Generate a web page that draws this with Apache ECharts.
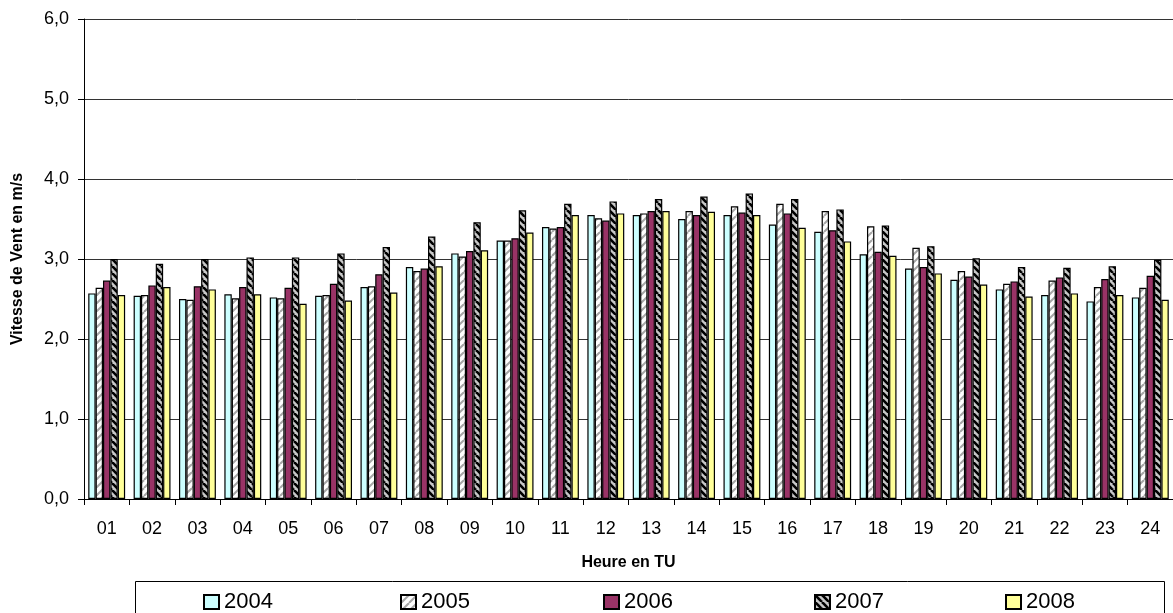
<!DOCTYPE html>
<html>
<head>
<meta charset="utf-8">
<script src="https://cdn.jsdelivr.net/npm/echarts@6/dist/echarts.min.js"></script>
<style>html,body{margin:0;padding:0;background:#fff}#c{width:1173px;height:613px}</style>
</head>
<body>
<div id="c"></div>
<script>
const hours = ['01','02','03','04','05','06','07','08','09','10','11','12','13','14','15','16','17','18','19','20','21','22','23','24'];
const years = ['2004','2005','2006','2007','2008'];
const v2004 = [2.57,2.54,2.50,2.56,2.52,2.54,2.65,2.90,3.07,3.23,3.40,3.55,3.55,3.50,3.55,3.43,3.34,3.06,2.88,2.74,2.62,2.55,2.47,2.52];
const v2005 = [2.64,2.55,2.49,2.51,2.51,2.55,2.66,2.85,3.03,3.23,3.38,3.51,3.57,3.60,3.66,3.69,3.60,3.41,3.14,2.85,2.69,2.73,2.65,2.64];
const v2006 = [2.73,2.67,2.66,2.65,2.64,2.69,2.81,2.88,3.10,3.26,3.40,3.48,3.60,3.55,3.58,3.57,3.36,3.09,2.90,2.78,2.72,2.77,2.75,2.79];
const v2007 = [3.00,2.94,3.00,3.02,3.02,3.07,3.15,3.28,3.46,3.61,3.69,3.72,3.75,3.78,3.82,3.75,3.62,3.42,3.16,3.01,2.90,2.89,2.91,2.99];
const v2008 = [2.55,2.65,2.62,2.56,2.44,2.48,2.58,2.91,3.11,3.33,3.55,3.57,3.60,3.59,3.55,3.39,3.22,3.04,2.82,2.68,2.53,2.57,2.55,2.49];
const yTicks = ['0,0','1,0','2,0','3,0','4,0','5,0','6,0'];

function stripes(bg, fg, size, width, dir) {
  const c = document.createElement('canvas');
  c.width = size; c.height = size;
  const g = c.getContext('2d');
  g.fillStyle = bg; g.fillRect(0, 0, size, size);
  g.strokeStyle = fg; g.lineWidth = width;
  for (let k = -1; k <= 1; k++) {
    g.beginPath();
    if (dir === 'down') { g.moveTo(k * size, 0); g.lineTo(k * size + size, size); }
    else { g.moveTo(k * size, size); g.lineTo(k * size + size, 0); }
    g.stroke();
  }
  return { image: c, repeat: 'repeat' };
}

const fills = [
  '#CCFFFF',
  stripes('#FFFFFF', '#A6A6A6', 8, 2, 'up'),
  '#993366',
  stripes('#C8C8C8', '#000000', 7, 2.6, 'down'),
  '#FFFF99'
];
const values = [v2004, v2005, v2006, v2007, v2008];
const FONT = "Arial, 'Liberation Sans', sans-serif";
const legendX = [203, 400, 603, 814, 1005];

const chart = echarts.init(document.getElementById('c'), null, { renderer: 'canvas' });
chart.setOption({
  animation: false,
  backgroundColor: '#fff',
  textStyle: { fontFamily: FONT },
  grid: { left: 84, right: -4, top: 19, bottom: 114 },
  graphic: [{
    type: 'rect', left: 135, top: 581, z: 0,
    shape: { width: 1029, height: 50 },
    style: { fill: '#fff', stroke: '#000', lineWidth: 1 }
  }],
  legend: years.map((y, i) => ({
    data: [y], left: legendX[i], top: 591, padding: 0,
    icon: 'rect', itemWidth: 15, itemHeight: 14, z: 5,
    textStyle: { fontSize: 22, color: '#000', fontFamily: FONT }
  })),
  xAxis: {
    type: 'category', data: hours,
    name: 'Heure en TU', nameLocation: 'middle', nameGap: 56,
    nameTextStyle: { fontWeight: 'bold', fontSize: 16, color: '#000', fontFamily: FONT },
    axisLine: { lineStyle: { color: '#000', width: 1 } },
    axisTick: { show: true, length: 6, lineStyle: { color: '#000' } },
    axisLabel: { color: '#000', fontSize: 18, margin: 21, fontFamily: FONT }
  },
  yAxis: {
    type: 'value', min: 0, max: 6, interval: 1,
    name: 'Vitesse de Vent en m/s', nameLocation: 'middle', nameGap: 58, nameRotate: 90,
    nameTextStyle: { fontWeight: 'bold', fontSize: 16, color: '#000', fontFamily: FONT },
    axisLine: { show: true, lineStyle: { color: '#000', width: 1 } },
    axisTick: { show: true, length: 6, lineStyle: { color: '#000' } },
    axisLabel: { color: '#000', fontSize: 18, margin: 15, fontFamily: FONT,
      formatter: (v) => yTicks[Math.round(v)] },
    splitLine: { show: true, lineStyle: { color: '#333', width: 1 } }
  },
  series: years.map((y, i) => ({
    name: y, type: 'bar', data: values[i],
    barGap: '0%', barCategoryGap: '18.7%',
    itemStyle: { color: fills[i], borderColor: '#000', borderWidth: 1.2 }
  }))
});
</script>
</body>
</html>
